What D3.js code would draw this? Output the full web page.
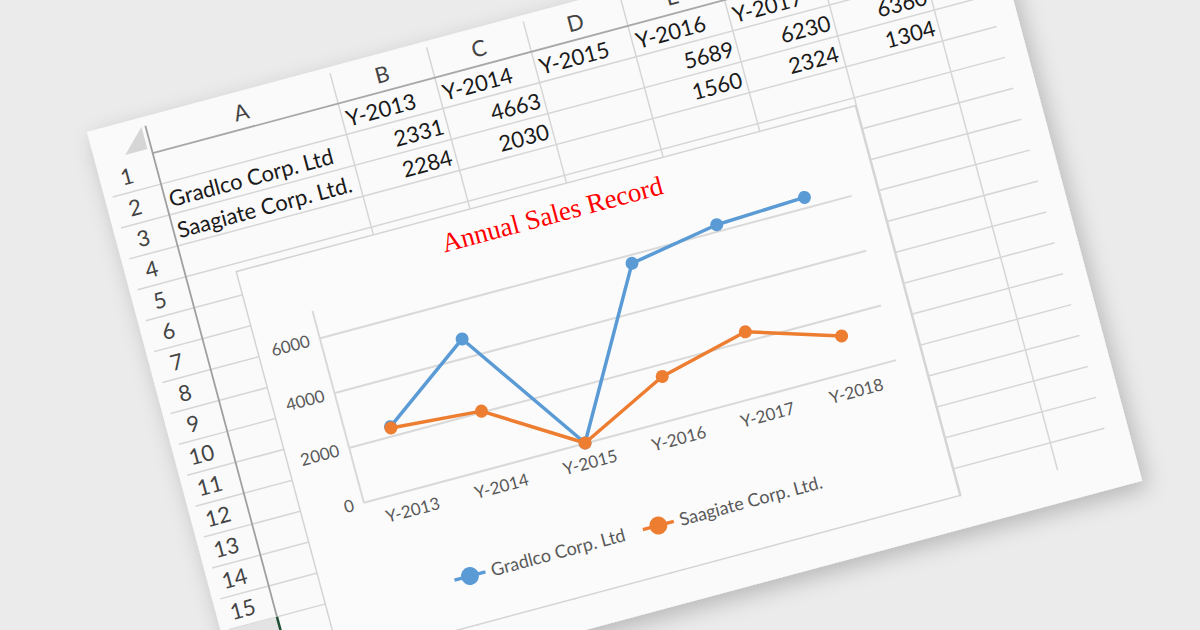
<!DOCTYPE html>
<html><head><meta charset="utf-8">
<script src="https://cdn.jsdelivr.net/npm/d3@7"></script>
<style>html,body{margin:0;padding:0;background:#ebebeb;} svg{display:block}</style>
</head><body>
<svg id="c" width="1200" height="630"></svg>
<script>
// ---- data ----
const categories = ["Y-2013", "Y-2014", "Y-2015", "Y-2016", "Y-2017", "Y-2018"];
const gradlco = [2331, 4663, null, 5689, 6230, 6360];
const saagiate = [2284, 2030, null, 1560, 2324, 1304];
const seriesNames = ["Gradlco Corp. Ltd", "Saagiate Corp. Ltd."];
const seriesColors = ["#5b9bd5", "#ed7d31"];
const yTicks = [0, 2000, 4000, 6000];
const gridTicks = [2000, 4000, 6000];
const colLetters = ["A", "B", "C", "D", "E", "F", "G", "H"];
const rowNumbers = d3.range(1, 16);
const chartTitle = "Annual Sales Record";

// ---- layout (sheet-local coordinates) ----
const SHEET_W = 929, SHEET_H = 610;
const ROW_HDR_W = 58, COL_HDR_H = 37.5, ROW_H = 32;
const colEdges = [58, 250, 350, 450, 550, 650, 750, 850, 950];
const GRID_RIGHT = 906, GRID_BOTTOM = 578;
const sans = "Lato, 'Open Sans', sans-serif";

const svg = d3.select("#c");
svg.append("rect").attr("width", 1200).attr("height", 630).attr("fill", "#ebebeb");
const defs = svg.append("defs");
const f = defs.append("filter").attr("id", "sh").attr("x", "-10%").attr("y", "-10%").attr("width", "125%").attr("height", "130%");
f.append("feDropShadow").attr("dx", 4).attr("dy", 8).attr("stdDeviation", 11)
  .attr("flood-color", "#000").attr("flood-opacity", 0.22);

const sheet = svg.append("g").attr("transform", "translate(87,132) rotate(-15)");
sheet.append("rect").attr("width", SHEET_W).attr("height", SHEET_H)
  .attr("fill", "#fafafa").attr("filter", "url(#sh)");

// corner triangle
sheet.append("path").attr("d", "M31,32 L54,32 L54,9 Z").attr("fill", "#d6d6d6");

// grid: horizontal row lines
const grid = sheet.append("g").attr("stroke", "#d6d6d6").attr("stroke-width", 1.5);
d3.range(1, 17).forEach(k => {
  const v = COL_HDR_H + k * ROW_H;
  grid.append("line").attr("x1", ROW_HDR_W).attr("x2", GRID_RIGHT).attr("y1", v).attr("y2", v);
  if (k <= 15) grid.append("line").attr("x1", 8).attr("x2", ROW_HDR_W).attr("y1", v).attr("y2", v);
});
// vertical column lines
colEdges.slice(1, -1).forEach(u => {
  grid.append("line").attr("x1", u).attr("x2", u).attr("y1", 6).attr("y2", GRID_BOTTOM);
});
// header separators
sheet.append("line").attr("x1", ROW_HDR_W).attr("x2", GRID_RIGHT).attr("y1", COL_HDR_H).attr("y2", COL_HDR_H)
  .attr("stroke", "#a8a8a8").attr("stroke-width", 1.8);
sheet.append("line").attr("x1", ROW_HDR_W).attr("x2", ROW_HDR_W).attr("y1", 9).attr("y2", 517.5)
  .attr("stroke", "#a0a0a0").attr("stroke-width", 1.8);

// tab bar corner
sheet.append("rect").attr("x", 0).attr("y", 517.5).attr("width", ROW_HDR_W).attr("height", 92.5).attr("fill", "#e3e3e3");
sheet.append("line").attr("x1", ROW_HDR_W).attr("x2", ROW_HDR_W).attr("y1", 517.5).attr("y2", 610)
  .attr("stroke", "#1d4f34").attr("stroke-width", 2.5);

// column letters
sheet.append("g").selectAll("text").data(colLetters).join("text")
  .attr("x", (d, i) => (colEdges[i] + colEdges[i + 1]) / 2).attr("y", 21).attr("dy", "0.35em")
  .attr("text-anchor", "middle").attr("font-family", sans).attr("font-size", 22).attr("fill", "#444")
  .text(d => d);
// row numbers
sheet.append("g").selectAll("text").data(rowNumbers).join("text")
  .attr("x", 27).attr("y", d => COL_HDR_H + (d - 0.5) * ROW_H).attr("dy", "0.35em")
  .attr("text-anchor", "middle").attr("font-family", sans).attr("font-size", 22).attr("fill", "#444")
  .text(d => d);

// cell contents
const cells = sheet.append("g").attr("font-family", sans).attr("font-size", 22).attr("fill", "#1a1a1a");
const baseline = r => COL_HDR_H + r * ROW_H - 7;
categories.forEach((c, i) => {
  cells.append("text").attr("x", colEdges[i + 1] + 4).attr("y", baseline(1)).text(c);
});
[gradlco, saagiate].forEach((vals, s) => {
  cells.append("text").attr("x", colEdges[0] + 4).attr("y", baseline(2 + s)).text(seriesNames[s]);
  vals.forEach((v, i) => {
    if (v == null) return;
    cells.append("text").attr("x", colEdges[i + 2] - 4).attr("y", baseline(2 + s))
      .attr("text-anchor", "end").text(v);
  });
});

// ---- chart ----
const CH = {x: 108, y: 173.5, w: 641, h: 403.5};
const chart = sheet.append("g");
chart.append("rect").attr("x", CH.x).attr("y", CH.y).attr("width", CH.w).attr("height", CH.h)
  .attr("fill", "#fbfbfb").attr("stroke", "#d4d4d4").attr("stroke-width", 1.5);

const x = d3.scaleBand().domain(categories).range([171, 722]);
const y = d3.scaleLinear().domain([0, 7000]).range([429.3, 230.7]);

// gridlines
chart.append("g").attr("transform", "translate(171,0)")
  .call(d3.axisLeft(y).tickValues(gridTicks).tickSize(-(722 - 171)).tickFormat(""))
  .call(g => g.select(".domain").remove())
  .call(g => g.selectAll("line").attr("stroke", "#d9d9d9").attr("stroke-width", 2));

// y axis
chart.append("g").attr("transform", "translate(171,0)")
  .call(d3.axisLeft(y).tickValues(yTicks).tickFormat(d3.format("d")).tickSize(0).tickPadding(10).tickSizeOuter(0))
  .call(g => g.select(".domain").attr("stroke", "#d9d9d9").attr("stroke-width", 2))
  .call(g => g.selectAll("text").attr("font-family", sans).attr("font-size", 17).attr("fill", "#595959"));

// x axis
chart.append("g").attr("transform", `translate(0,${y(0)})`)
  .call(d3.axisBottom(x).tickSize(0).tickPadding(14).tickSizeOuter(0))
  .call(g => g.select(".domain").attr("stroke", "#d9d9d9").attr("stroke-width", 2))
  .call(g => g.selectAll("text").attr("font-family", sans).attr("font-size", 17).attr("fill", "#595959"));

const cx = i => x(categories[i]) + x.bandwidth() / 2;
const line = d3.line().x((d, i) => cx(i)).y(d => y(d ?? 0));
[gradlco, saagiate].forEach((vals, s) => {
  chart.append("path").attr("d", line(vals)).attr("fill", "none")
    .attr("stroke", seriesColors[s]).attr("stroke-width", 3.5).attr("stroke-linejoin", "round");
  chart.append("g").selectAll("circle").data(vals).join("circle")
    .attr("cx", (d, i) => cx(i)).attr("cy", d => y(d ?? 0)).attr("r", 6.5).attr("fill", seriesColors[s]);
});

// title
chart.append("text").attr("x", 428).attr("y", 209).attr("text-anchor", "middle")
  .attr("font-family", "'Liberation Serif', 'DejaVu Serif', serif").attr("font-size", 27).attr("fill", "#ff0000")
  .text(chartTitle);

// legend
const legX = [255, 450], legY = 528;
seriesNames.forEach((n, s) => {
  const lg = chart.append("g").attr("transform", `translate(${legX[s]},${legY})`);
  lg.append("line").attr("x1", -16).attr("x2", 16).attr("stroke", seriesColors[s]).attr("stroke-width", 3.5);
  lg.append("circle").attr("r", 9).attr("fill", seriesColors[s]);
  lg.append("text").attr("x", 22).attr("dy", "0.35em").attr("font-family", sans).attr("font-size", 18)
    .attr("fill", "#595959").text(n);
});
</script>
</body></html>
